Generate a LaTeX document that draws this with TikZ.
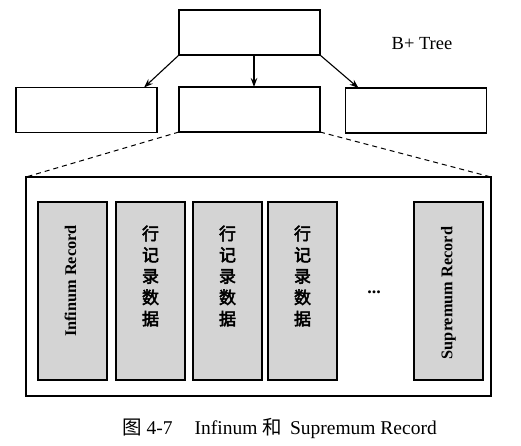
\documentclass[tikz,border=0pt]{standalone}
\usepackage{fontspec}
\setmainfont{Liberation Serif}
\newfontfamily\cjk{Noto Sans CJK SC}
\newfontfamily\cjkb[FakeBold=3]{Noto Sans CJK SC}
\usetikzlibrary{arrows.meta}
\begin{document}
\begin{tikzpicture}[x=1pt,y=-1pt,
  treebox/.style={draw, line width=1.2pt, minimum width=141pt, minimum height=45pt, inner sep=0pt, outer sep=0pt},
  pagebox/.style={draw, line width=1.3pt, minimum width=465pt, minimum height=219pt, inner sep=0pt, outer sep=0pt},
  recbox/.style={draw, line width=1.3pt, fill=black!17, minimum width=69pt, minimum height=178pt, inner sep=0pt, outer sep=0pt},
  arr/.style={-{Stealth[length=9pt,width=6.5pt]}, line width=1.1pt},
  dsh/.style={line width=1pt, dash pattern=on 5pt off 4pt},
  rottext/.style={rotate=90, font=\bfseries\fontsize{16.3}{18}\selectfont, inner sep=0pt},
  cjktext/.style={align=center, font=\cjkb\fontsize{17}{21.3}\selectfont, inner sep=0pt}
]
\useasboundingbox (0,0) rectangle (521,446);

\node[treebox] (top) at (249.5,32.5) {};
\node[treebox] (left) at (86.5,110) {};
\node[treebox] (mid) at (249.5,109.5) {};
\node[treebox] (right) at (416,110.5) {};
\node[font=\fontsize{18.5}{20}\selectfont] (bt) at (422,44) {B+ Tree};

\draw[arr] (top.south west) -- ([xshift=-13pt]left.north east);
\draw[arr] ([xshift=4.5pt]top.south) -- ([xshift=4.5pt]mid.north);
\draw[arr] (top.south east) -- ([xshift=13pt]right.north west);

\node[pagebox] (page) at (258.5,286.5) {};
\draw[dsh] (mid.south west) -- (page.north west);
\draw[dsh] (mid.south east) -- (page.north east);

\node[recbox] (c1) at (72.5,291) {};
\node[recbox] (c2) at (150.5,291) {};
\node[recbox] (c3) at (227.5,291) {};
\node[recbox] (c4) at (302.5,291) {};
\node[recbox] (c5) at (448.5,291) {};

\node[rottext] (t1) at ([xshift=-2pt,yshift=10pt]c1.center) {Infinum Record};
\node[cjktext] (t2) at ([yshift=15pt]c2.center) {行\\记\\录\\数\\据};
\node[cjktext] (t3) at ([yshift=15pt]c3.center) {行\\记\\录\\数\\据};
\node[cjktext] (t4) at ([yshift=15pt]c4.center) {行\\记\\录\\数\\据};
\node[rottext] (t5) at ([yshift=-2pt]c5.center) {Supremum Record};
\node[font=\bfseries\fontsize{18}{20}\selectfont, inner sep=0pt] (dots) at (374,292) {...};

\node[anchor=west, inner sep=0pt, font=\fontsize{19.5}{21}\selectfont] (cap) at (122,428)
  {{\cjk 图}\hspace{5pt}4-7\hspace{22pt}Infinum\hspace{5pt}{\cjk 和}\hspace{8pt}Supremum Record};
\end{tikzpicture}
\end{document}
